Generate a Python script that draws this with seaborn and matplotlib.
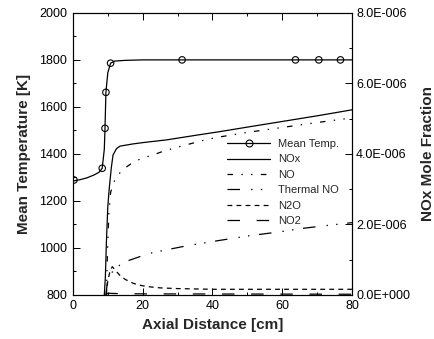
import matplotlib
matplotlib.use("Agg")
import matplotlib.pyplot as plt
from matplotlib.lines import Line2D
from matplotlib.ticker import MultipleLocator, FuncFormatter
import numpy as np
import pandas as pd
import seaborn as sns

# Mean temperature along the axis [K]
temp_x = [0.0, 2.0, 4.0, 6.0, 7.5, 8.4, 9.0, 9.2, 9.46, 10.0, 10.8, 12.0, 15.0, 20.0, 40.0, 60.0, 80.0]
temp_k = [1285, 1290, 1298, 1310, 1322, 1339, 1420, 1509, 1662, 1745, 1786, 1795, 1798, 1800, 1800, 1800, 1800]
# Computed stations shown with markers
temp_mark_x = [0.3, 8.4, 9.2, 9.46, 10.8, 31.3, 63.8, 70.5, 76.7]
temp_mark_k = [1289, 1339, 1509, 1662, 1786, 1800, 1800, 1800, 1800]

# Species mole fractions (x in cm, values in 1e-6)
nox_x = [9.0, 9.3, 9.6, 10.0, 10.4, 11.0, 11.5, 12.5, 13.5, 17.0, 20.0, 27.0, 36.0, 42.0, 50.0, 60.0, 70.0, 80.0]
nox_v = [0.0, 0.5, 1.5, 2.5, 3.0, 3.6, 3.97, 4.15, 4.22, 4.28, 4.32, 4.40, 4.54, 4.63, 4.76, 4.92, 5.08, 5.25]

no_x = [9.6, 9.9, 10.3, 10.8, 11.5, 12.5, 14.0, 15.5, 17.5, 20.0, 23.0, 26.0, 30.7, 38.0, 42.0, 50.0, 60.0, 70.0, 80.0]
no_v = [0.0, 1.2, 2.3, 2.9, 3.15, 3.35, 3.52, 3.64, 3.78, 3.88, 3.97, 4.08, 4.21, 4.40, 4.48, 4.61, 4.75, 4.89, 5.02]

thermal_x = [9.5, 9.8, 10.1, 11.0, 13.0, 15.8, 19.0, 22.0, 26.8, 33.0, 41.0, 50.0, 60.0, 66.0, 72.0, 80.0]
thermal_v = [0.0, 0.3, 0.47, 0.62, 0.82, 0.97, 1.08, 1.18, 1.28, 1.40, 1.53, 1.67, 1.80, 1.89, 1.96, 2.05]

n2o_x = [9.5, 10.0, 10.7, 11.3, 12.0, 13.5, 15.0, 17.3, 19.0, 21.0, 25.0, 30.0, 40.0, 60.0, 80.0]
n2o_v = [0.0, 0.4, 0.7, 0.8, 0.72, 0.55, 0.44, 0.33, 0.28, 0.24, 0.20, 0.18, 0.16, 0.16, 0.16]

no2_x = [9.5, 10.0, 12.0, 20.0, 80.0]
no2_v = [0.0, 0.05, 0.04, 0.03, 0.02]

species = ["NOx", "NO", "Thermal NO", "N2O", "NO2"]
species_x = [nox_x, no_x, thermal_x, n2o_x, no2_x]
species_v = [nox_v, no_v, thermal_v, n2o_v, no2_v]

dash_styles = {
    "NOx": "-",
    "NO": (0, (4, 6, 1, 6, 1, 6)),
    "Thermal NO": (0, (9, 8, 1, 6, 1, 7)),
    "N2O": (0, (3.5, 3)),
    "NO2": (0, (9, 12)),
}

sns.set_style("ticks")
plt.rcParams["font.family"] = ["Liberation Sans", "DejaVu Sans"]
plt.rcParams["lines.scale_dashes"] = False

fig = plt.figure(figsize=(4.34, 3.39), dpi=100)
ax = fig.add_axes([0.168, 0.130, 0.643, 0.832])
ax2 = ax.twinx()

lw = 0.9
sns.lineplot(x=temp_x, y=temp_k, ax=ax, color="k", lw=lw, sort=False, estimator=None)
sns.scatterplot(x=temp_mark_x, y=temp_mark_k, ax=ax, marker="o", s=22,
                facecolor="none", edgecolor="k", linewidth=0.8, zorder=5)

frames = []
for name, xs, vs in zip(species, species_x, species_v):
    frames.append(pd.DataFrame({"x": xs, "frac": np.array(vs) * 1e-6, "species": name}))
df = pd.concat(frames, ignore_index=True)

for name in species:
    sub = df[df["species"] == name]
    sns.lineplot(data=sub, x="x", y="frac", ax=ax2, color="k", lw=lw,
                 linestyle=dash_styles[name], sort=False, estimator=None)

ax.set_xlim(0, 80)
ax.set_ylim(800, 2000)
ax2.set_ylim(0, 8e-6)

ax.xaxis.set_major_locator(MultipleLocator(20))
ax.xaxis.set_minor_locator(MultipleLocator(10))
ax.yaxis.set_major_locator(MultipleLocator(200))
ax.yaxis.set_minor_locator(MultipleLocator(100))
ax2.yaxis.set_major_locator(MultipleLocator(2e-6))
ax2.yaxis.set_minor_locator(MultipleLocator(1e-6))


def sci_fmt(v, pos):
    if v == 0:
        return "0.0E+000"
    exp = int(np.floor(np.log10(abs(v))))
    mant = v / 10 ** exp
    sign = "+" if exp >= 0 else "-"
    return f"{mant:.1f}E{sign}{abs(exp):03d}"


ax2.yaxis.set_major_formatter(FuncFormatter(sci_fmt))

for a in (ax, ax2):
    for s in a.spines.values():
        s.set_visible(True)
        s.set_linewidth(0.8)
        s.set_color("k")

ax.tick_params(which="both", direction="in", top=True, right=False, colors="k",
               labelsize=9, width=0.7)
ax.tick_params(which="major", length=5, pad=4)
ax.tick_params(which="minor", length=2.5)
ax2.tick_params(which="both", direction="in", left=False, right=True, colors="k",
                labelsize=9, width=0.7)
ax2.tick_params(which="major", length=5, pad=3)
ax2.tick_params(which="minor", length=2.5)

ax.set_xlabel("Axial Distance [cm]", fontsize=11, fontweight="bold", labelpad=4)
ax.set_ylabel("Mean Temperature [K]", fontsize=11, fontweight="bold", labelpad=6)
ax2.set_ylabel("NOx Mole Fraction", fontsize=11, fontweight="bold", labelpad=8)

handles = [Line2D([], [], color="k", lw=lw, marker="o", ms=5, mfc="none", mew=0.8)]
labels = ["Mean Temp."]
for name in species:
    handles.append(Line2D([], [], color="k", lw=lw, linestyle=dash_styles[name]))
    labels.append(name)
ax2.legend(handles, labels, loc="upper left", bbox_to_anchor=(0.552, 0.553),
           frameon=False, fontsize=8, handlelength=3.9, handletextpad=0.7,
           labelspacing=0.49, borderpad=0, borderaxespad=0, numpoints=1)

fig.savefig("out.png", dpi=100)
